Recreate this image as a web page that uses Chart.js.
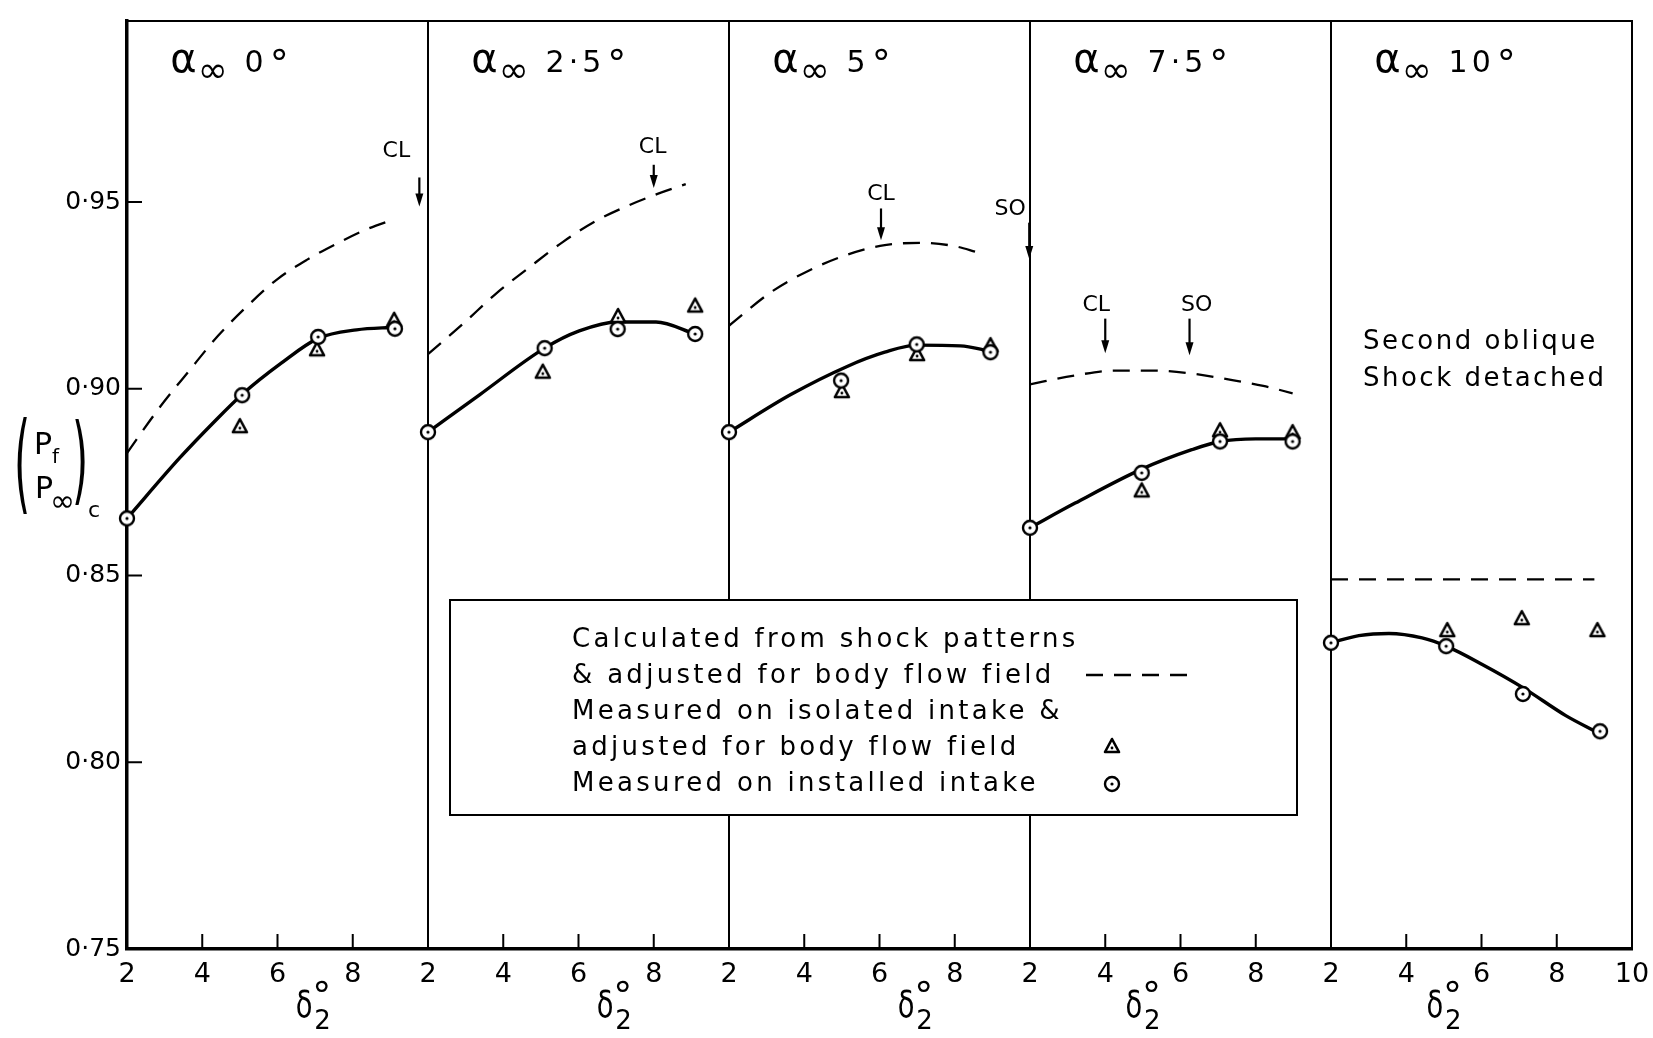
<!DOCTYPE html>
<html lang="en">
<head>
<meta charset="UTF-8">
<title>Pressure recovery against second wedge angle</title>
<script src="https://cdn.jsdelivr.net/npm/chart.js@4"></script>
<style>
  body { margin: 0; background: #fff; }
  #wrap { width: 1653px; height: 1038px; position: relative; }
</style>
</head>
<body>
<div id="wrap"><canvas id="chart"></canvas></div>
<script>
// one panel per incidence, inside each panel x is delta2 from 2 to 10 deg
const alphaLabels = ['0°', '2·5°', '5°', '7·5°', '10°'];
const yTicks = [0.75, 0.80, 0.85, 0.90, 0.95];
const xTickDeltas = [2, 4, 6, 8];

// calculated from shock patterns (dashed)
const calcDelta = [
  [2, 2.85, 3.64, 4.42, 5.21, 6.0, 6.79, 7.58, 8.36, 9.12],
  [2, 2.93, 3.81, 4.7, 5.58, 6.47, 7.35, 8.1, 8.85],
  [2, 3.13, 4.13, 5.14, 6.14, 7.15, 8.0, 8.6],
  [2, 3.2, 4.25, 5.28, 6.3, 7.34, 8.2, 8.98],
  [2, 9.0]
];
const calcP = [
  [0.8828, 0.8948, 0.9047, 0.9142, 0.9223, 0.9294, 0.9346, 0.9389, 0.9427, 0.9455],
  [0.9093, 0.9174, 0.9255, 0.9326, 0.9393, 0.9450, 0.9492, 0.9522, 0.9548],
  [0.9169, 0.9260, 0.9317, 0.9359, 0.9385, 0.9391, 0.9382, 0.9366],
  [0.9012, 0.9036, 0.9049, 0.9049, 0.9041, 0.9024, 0.9008, 0.8988],
  [0.849, 0.849]
];

// faired curve through the installed intake points (solid)
const fitDelta = [
  [2, 3.4, 4.3, 5.06, 6.09, 7.08, 8.1, 9.12],
  [2, 3.37, 5.1, 6.02, 7.04, 8.06, 9.1],
  [2, 3.63, 5.14, 6.14, 6.99, 8.15, 8.95],
  [2, 3.2, 4.97, 6.3, 7.05, 8.0, 8.98],
  [2, 2.74, 3.54, 4.42, 5.06, 6.02, 7.1, 8.24, 9.1]
];
const fitP = [
  [0.8653, 0.8815, 0.8910, 0.8985, 0.9068, 0.9135, 0.9158, 0.9165],
  [0.8884, 0.8984, 0.9109, 0.9155, 0.9179, 0.9179, 0.9147],
  [0.8884, 0.8984, 0.9060, 0.9098, 0.9117, 0.9115, 0.9101],
  [0.8628, 0.8694, 0.8785, 0.8837, 0.8859, 0.8866, 0.8866],
  [0.832, 0.8339, 0.8345, 0.8333, 0.8311, 0.8262, 0.8200, 0.8125, 0.8079]
];

// measured on isolated intake, adjusted (triangles)
const isoDelta = [[5.0, 7.05, 9.1], [5.05, 7.05, 9.1], [5.0, 7.0, 8.95], [4.97, 7.05, 8.98], [5.09, 7.07, 9.08]];
const isoP = [[0.890, 0.9106, 0.9185], [0.9046, 0.9195, 0.9223], [0.8994, 0.9093, 0.9117], [0.8728, 0.8889, 0.8884], [0.8354, 0.8386, 0.8354]];

// measured on installed intake (circles)
const instDelta = [[2, 5.06, 7.08, 9.12], [2, 5.1, 7.04, 9.1], [2, 4.98, 6.99, 8.95], [2, 4.97, 7.05, 8.98], [2, 5.06, 7.1, 9.15]];
const instP = [[0.8653, 0.8983, 0.9139, 0.9161], [0.8884, 0.9109, 0.9160, 0.9147], [0.8884, 0.9022, 0.9119, 0.9098], [0.8628, 0.8775, 0.8859, 0.8859], [0.832, 0.8311, 0.8183, 0.8083]];

// CL / SO arrows
const markPanel = [0, 1, 2, 2, 3, 3];
const markText = ['CL', 'CL', 'CL', 'SO', 'CL', 'SO'];
const markDelta = [9.77, 8.0, 6.04, 9.98, 4.0, 6.24];
const markTop = [0.9566, 0.9600, 0.9483, 0.9445, 0.9188, 0.9188];
const markBottom = [0.9488, 0.9538, 0.9398, 0.9348, 0.9095, 0.9090];
const markTextDelta = [9.16, 7.97, 6.04, 9.47, 3.76, 6.43];
const markTextP = [0.9636, 0.9648, 0.9521, 0.9482, 0.9224, 0.9224];

const noteLines = ['Second oblique', 'Shock detached'];
const legendLines = [
  'Calculated from shock patterns',
  '& adjusted for body flow field',
  'Measured on isolated intake &',
  'adjusted for body flow field',
  'Measured on installed intake'
];

const FONT = '"DejaVu Sans", sans-serif';
const SPAN = 8;
const xOf = (panel, d) => panel * SPAN + d - 2;
const toPts = (panel, ds, ps) => ds.map((d, i) => ({ x: xOf(panel, d), y: ps[i] }));

function makeCircle() {
  const c = document.createElement('canvas');
  c.width = 20; c.height = 20;
  const g = c.getContext('2d');
  g.fillStyle = '#fff';
  g.strokeStyle = '#000';
  g.lineWidth = 2.4;
  g.beginPath(); g.arc(10, 10, 7, 0, Math.PI * 2); g.fill(); g.stroke();
  g.fillStyle = '#000';
  g.beginPath(); g.arc(10, 10, 1.6, 0, Math.PI * 2); g.fill();
  return c;
}
function makeTriangle() {
  const c = document.createElement('canvas');
  c.width = 20; c.height = 20;
  const g = c.getContext('2d');
  g.fillStyle = '#fff';
  g.strokeStyle = '#000';
  g.lineWidth = 2.6;
  g.lineJoin = 'round';
  g.beginPath(); g.moveTo(10, 3); g.lineTo(17, 16); g.lineTo(3, 16); g.closePath(); g.fill(); g.stroke();
  g.fillStyle = '#000';
  g.beginPath(); g.arc(10, 12, 1.4, 0, Math.PI * 2); g.fill();
  return c;
}
const circImg = makeCircle();
const triImg = makeTriangle();

const datasets = [];
for (let k = 0; k < alphaLabels.length; k++) {
  datasets.push({
    data: toPts(k, calcDelta[k], calcP[k]), showLine: true, borderColor: '#000', borderWidth: 2.3,
    borderDash: [17, 11], pointRadius: 0, cubicInterpolationMode: 'monotone', clip: false, order: 3
  });
  datasets.push({
    data: toPts(k, fitDelta[k], fitP[k]), showLine: true, borderColor: '#000', borderWidth: 3.4,
    pointRadius: 0, cubicInterpolationMode: 'monotone', clip: false, order: 2
  });
  datasets.push({ data: toPts(k, isoDelta[k], isoP[k]), pointStyle: triImg, pointRadius: 9, clip: false, order: 1 });
  datasets.push({ data: toPts(k, instDelta[k], instP[k]), pointStyle: circImg, pointRadius: 9, clip: false, order: 0 });
}

const frameAndTicks = {
  id: 'frameAndTicks',
  beforeDatasetsDraw(chart) {
    const { ctx, chartArea: a, scales: { x, y } } = chart;
    ctx.save();
    ctx.strokeStyle = '#000';
    ctx.lineWidth = 2;
    ctx.beginPath();
    ctx.moveTo(a.left, a.top); ctx.lineTo(a.right + 1, a.top);
    y.ticks.forEach(t => {
      const py = y.getPixelForValue(t.value);
      ctx.moveTo(a.left, py); ctx.lineTo(a.left + 15, py);
    });
    x.ticks.forEach(t => {
      if (t.value % SPAN === 0) return;
      const px = x.getPixelForValue(t.value);
      ctx.moveTo(px, a.bottom); ctx.lineTo(px, a.bottom - 15);
    });
    ctx.stroke();
    ctx.restore();
  }
};

function drawArrow(ctx, px, y0, y1) {
  ctx.beginPath(); ctx.moveTo(px, y0); ctx.lineTo(px, y1 - 8); ctx.stroke();
  ctx.beginPath(); ctx.moveTo(px - 4, y1 - 13); ctx.lineTo(px + 4, y1 - 13); ctx.lineTo(px, y1); ctx.closePath(); ctx.fill();
}

const annotations = {
  id: 'annotations',
  afterDatasetsDraw(chart) {
    const { ctx, scales: { x, y } } = chart;
    ctx.save();
    ctx.fillStyle = '#000';
    ctx.strokeStyle = '#000';

    // alpha labels
    alphaLabels.forEach((lab, k) => {
      let px = x.getPixelForValue(xOf(k, 3.15));
      ctx.textAlign = 'left'; ctx.textBaseline = 'alphabetic';
      ctx.font = `40px ${FONT}`; ctx.fillText('α', px, 72);
      px += ctx.measureText('α').width + 1;
      ctx.font = `36px ${FONT}`; ctx.fillText('∞', px, 82);
      px += ctx.measureText('∞').width + 17;
      const num = lab.replace('°', '');
      ctx.font = `30px ${FONT}`;
      ctx.letterSpacing = '4px';
      ctx.fillText(num, px, 72);
      px += ctx.measureText(num).width + 2;
      ctx.letterSpacing = '0px';
      ctx.font = `38px ${FONT}`; ctx.fillText('°', px, 76);
    });

    // CL / SO
    ctx.lineWidth = 2.2;
    ctx.font = `22px ${FONT}`;
    ctx.textAlign = 'center'; ctx.textBaseline = 'middle';
    markText.forEach((t, i) => {
      const k = markPanel[i];
      ctx.fillText(t, x.getPixelForValue(xOf(k, markTextDelta[i])), y.getPixelForValue(markTextP[i]));
      drawArrow(ctx, x.getPixelForValue(xOf(k, markDelta[i])), y.getPixelForValue(markTop[i]), y.getPixelForValue(markBottom[i]));
    });

    // note in last panel
    ctx.textAlign = 'left';
    ctx.font = `26px ${FONT}`;
    ctx.letterSpacing = '2.5px';
    ctx.fillText(noteLines[0], x.getPixelForValue(xOf(4, 2.85)), y.getPixelForValue(0.9125));
    ctx.fillText(noteLines[1], x.getPixelForValue(xOf(4, 2.85)), y.getPixelForValue(0.9027));
    ctx.letterSpacing = '0px';

    // delta2 axis titles
    const dPos = [6.95, 6.95, 6.95, 5.0, 5.0];
    dPos.forEach((d, k) => {
      const px = x.getPixelForValue(xOf(k, d));
      ctx.save();
      ctx.textAlign = 'center'; ctx.textBaseline = 'alphabetic';
      ctx.font = `38px ${FONT}`;
      ctx.translate(px - 9, 1017); ctx.scale(0.72, 1);
      ctx.fillText('δ', 0, 0);
      ctx.restore();
      ctx.textAlign = 'left'; ctx.textBaseline = 'alphabetic';
      ctx.font = `38px ${FONT}`; ctx.fillText('°', px - 1, 1008);
      ctx.textBaseline = 'middle';
      ctx.font = `26px ${FONT}`; ctx.fillText('2', px + 1, 1022);
    });

    // y title (pf / p_inf)_c
    ctx.textBaseline = 'middle'; ctx.textAlign = 'center';
    ctx.save();
    ctx.font = `46px ${FONT}`;
    ctx.translate(22, 472); ctx.scale(0.9, 2.35); ctx.fillText('(', 0, 0);
    ctx.restore();
    ctx.save();
    ctx.font = `46px ${FONT}`;
    ctx.translate(80, 467); ctx.scale(0.9, 2.1); ctx.fillText(')', 0, 0);
    ctx.restore();
    ctx.textAlign = 'left'; ctx.textBaseline = 'alphabetic';
    ctx.font = `30px ${FONT}`; ctx.fillText('P', 34, 454);
    ctx.font = `20px ${FONT}`; ctx.fillText('f', 52, 463);
    ctx.font = `30px ${FONT}`; ctx.fillText('P', 35, 498);
    ctx.font = `30px ${FONT}`; ctx.fillText('∞', 50, 511);
    ctx.font = `22px ${FONT}`; ctx.fillText('c', 88, 517);

    // legend box
    ctx.fillStyle = '#fff';
    ctx.fillRect(450, 600, 847, 215);
    ctx.lineWidth = 2;
    ctx.strokeRect(450, 600, 847, 215);
    ctx.fillStyle = '#000';
    ctx.font = `26px ${FONT}`;
    ctx.letterSpacing = '3.3px';
    ctx.textBaseline = 'alphabetic';
    legendLines.forEach((t, i) => ctx.fillText(t, 572, 647 + i * 36));
    ctx.letterSpacing = '0px';
    ctx.setLineDash([17, 11]);
    ctx.lineWidth = 2.3;
    ctx.beginPath(); ctx.moveTo(1086, 675); ctx.lineTo(1192, 675); ctx.stroke();
    ctx.setLineDash([]);
    ctx.drawImage(triImg, 1102, 736);
    ctx.drawImage(circImg, 1102, 774);
    ctx.restore();
  }
};

new Chart(document.getElementById('chart'), {
  type: 'scatter',
  data: { datasets },
  options: {
    responsive: true,
    maintainAspectRatio: false,
    animation: false,
    layout: { padding: { top: 13, right: 21, left: 0, bottom: 0 } },
    plugins: { legend: { display: false }, tooltip: { enabled: false } },
    scales: {
      x: {
        type: 'linear',
        min: 0,
        max: SPAN * alphaLabels.length,
        afterBuildTicks: s => {
          const ticks = [];
          for (let k = 0; k < alphaLabels.length; k++) xTickDeltas.forEach(d => ticks.push({ value: xOf(k, d) }));
          ticks.push({ value: SPAN * alphaLabels.length });
          s.ticks = ticks;
        },
        afterFit: s => { s.height = 89; s.paddingLeft = 0; s.paddingRight = 0; },
        grid: {
          drawTicks: false,
          lineWidth: 2,
          color: c => (c.tick && c.tick.value % SPAN === 0) ? '#000' : 'rgba(0,0,0,0)'
        },
        border: { display: true, color: '#000', width: 3.5 },
        ticks: {
          autoSkip: false,
          maxRotation: 0,
          padding: 10,
          color: '#000',
          font: { family: FONT, size: 27 },
          callback: v => v === SPAN * alphaLabels.length ? '10' : String((v % SPAN) + 2)
        }
      },
      y: {
        min: 0.75,
        max: 0.9985,
        afterBuildTicks: s => { s.ticks = yTicks.map(v => ({ value: v })); },
        afterFit: s => { s.width = 127; },
        grid: { display: false, drawTicks: false },
        border: { display: true, color: '#000', width: 3.5 },
        ticks: {
          padding: 6,
          color: '#000',
          font: { family: FONT, size: 25 },
          callback: v => v.toFixed(2).replace('.', '·')
        }
      }
    }
  },
  plugins: [frameAndTicks, annotations]
});
</script>
</body>
</html>
